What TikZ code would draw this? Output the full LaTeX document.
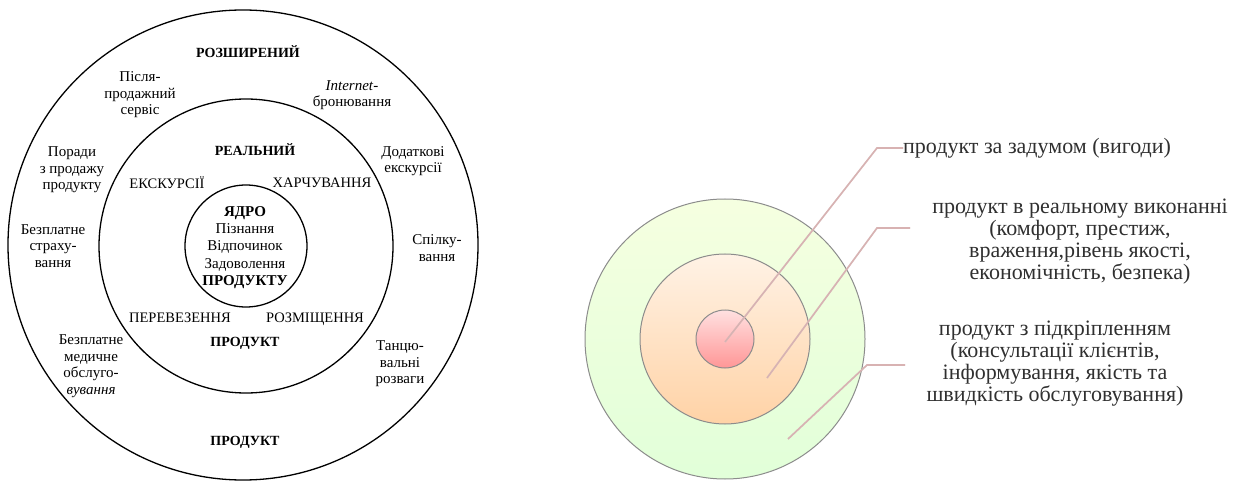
\documentclass[tikz,border=0pt]{standalone}
\usepackage{fontspec}
\setmainfont{Liberation Serif}
\usepackage{tikz}
\usetikzlibrary{positioning}
\definecolor{ringGray}{HTML}{8C8C8C}
\definecolor{leadPink}{HTML}{D8B2B2}
\definecolor{txtGray}{HTML}{303030}

\begin{document}
\begin{tikzpicture}[x=1pt, y=-1pt,
    ring/.style={circle, draw=black, line width=1.3pt, inner sep=0pt},
    disc/.style={circle, draw=ringGray, line width=1pt, inner sep=0pt},
    lbl/.style={font=\fontsize{15}{16.5}\selectfont, align=center, inner sep=0pt},
    uplbl/.style={lbl, font=\fontsize{14.5}{16.5}\selectfont},
    caplbl/.style={lbl, font=\fontsize{14}{16.5}\selectfont\bfseries},
    note/.style={font=\fontsize{22}{22}\selectfont, text=txtGray, align=center, inner sep=0pt},
    leader/.style={draw=leadPink, line width=1.6pt},
    leadshadow/.style={draw=gray!35, line width=1.6pt, opacity=0.6}
  ]
  \useasboundingbox (0,0) rectangle (1248,481);

  % Left: product levels
  \node[ring, minimum size=470pt] (outerL) at (243,245) {};
  \node[ring, minimum size=294pt] (midL) at (246,246) {};
  \node[ring, minimum size=122pt] (coreL) at (246,246) {};

  \node[caplbl] (ext) at (248,52) {РОЗШИРЕНИЙ};
  \node[lbl] (service) at (140,95) {Після-\\продажний\\сервіс};
  \node[lbl] (booking) at (352,95) {\textit{Internet}-\\бронювання};
  \node[lbl] (advice) at (72,170) {Поради\\з продажу\\продукту};
  \node[lbl] (trips) at (413,161) {Додаткові\\екскурсії};
  \node[lbl] (insur) at (53,246) {Безплатне\\страху-\\вання};
  \node[lbl] (talk) at (437,248) {Спілку-\\вання};
  \node[lbl] (medic) at (91,366) {Безплатне\\медичне\\обслуго-\\\textit{вування}};
  \node[lbl] (dance) at (400,364) {Танцю-\\вальні\\розваги};
  \node[caplbl] (prodOut) at (245,442) {ПРОДУКТ};

  \node[caplbl] (real) at (255,150) {РЕАЛЬНИЙ};
  \node[uplbl] (excur) at (167,183) {ЕКСКУРСІЇ};
  \node[uplbl] (food) at (322,183) {ХАРЧУВАННЯ};
  \node[uplbl] (transp) at (180,318) {ПЕРЕВЕЗЕННЯ};
  \node[uplbl] (lodge) at (315,319) {РОЗМІЩЕННЯ};
  \node[caplbl] (prodMid) at (245,343) {ПРОДУКТ};

  \node[lbl, font=\fontsize{15}{17.2}\selectfont] (core) at (245,247.5)
    {\textbf{ЯДРО}\\Пізнання\\Відпочинок\\Задоволення\\\textbf{ПРОДУКТУ}};

  % Right: three levels
  \node[disc, minimum size=280pt, top color=green!8!lime!12!white, bottom color=lime!30!green!15!white] (outerR) at (725,339) {};
  \node[disc, minimum size=170pt, top color=orange!10!white, bottom color=orange!35!white] (midR) at (725,339) {};
  \node[disc, minimum size=58pt, top color=red!12!white, bottom color=red!35!pink!80!white] (coreR) at (725,339) {};

  \node[note, anchor=west] (tA) at (903,148) {продукт за задумом (вигоди)};
  \node[note] (tB) at (1080,242)
    {продукт в реальному виконанні\\(комфорт, престиж,\\враження,рівень якості,\\економічність, безпека)};
  \node[note] (tC) at (1055,364)
    {продукт з підкріпленням\\(консультації клієнтів,\\інформування, якість та\\швидкість обслуговування)};

  \coordinate (pinA) at (725,342);
  \coordinate (bendA) at (877,148);
  \coordinate (pinB) at (767,378);
  \coordinate (bendB) at (877,228);
  \coordinate (endB) at (910,228);
  \coordinate (pinC) at (788,439);
  \coordinate (bendC) at (867,365);
  \coordinate (endC) at (905,365);

  \begin{scope}[shift={(1.5,1.5)}]
    \draw[leadshadow] (pinA) -- (bendA) -- (tA.west);
    \draw[leadshadow] (pinB) -- (bendB) -- (endB);
    \draw[leadshadow] (pinC) -- (bendC) -- (endC);
  \end{scope}
  \draw[leader] (pinA) -- (bendA) -- (tA.west);
  \draw[leader] (pinB) -- (bendB) -- (endB);
  \draw[leader] (pinC) -- (bendC) -- (endC);
\end{tikzpicture}
\end{document}
